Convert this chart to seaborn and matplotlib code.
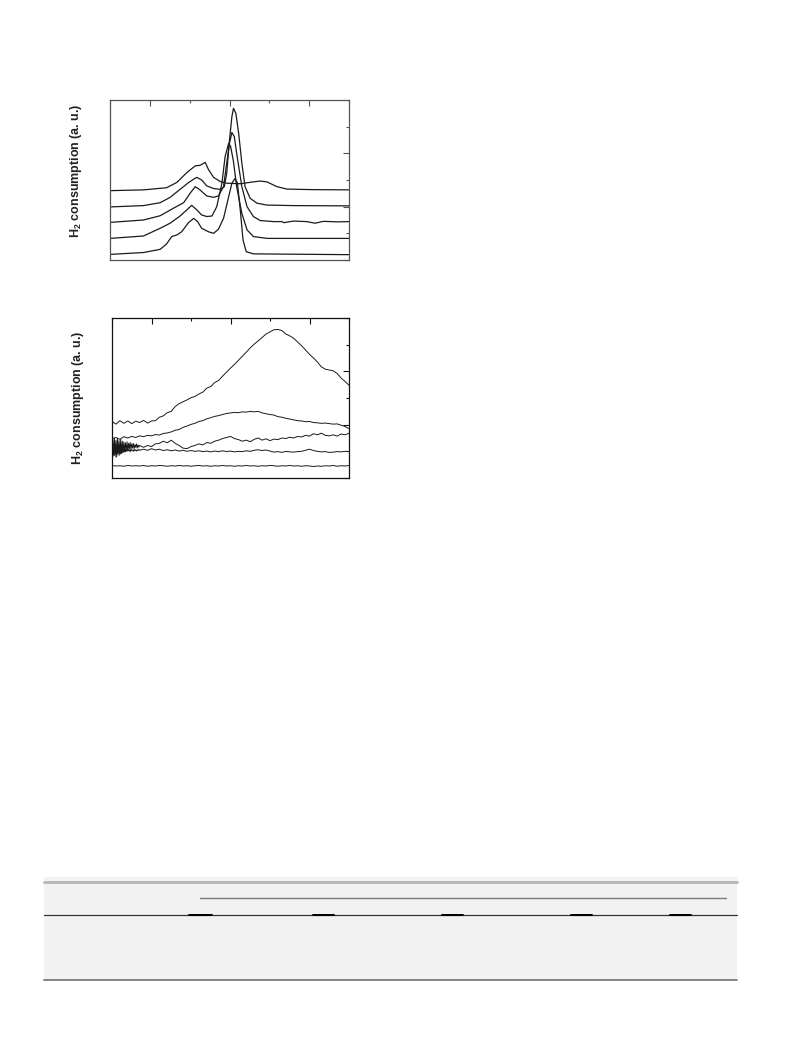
import matplotlib
matplotlib.use("Agg")
import matplotlib.pyplot as plt
from matplotlib.lines import Line2D
from matplotlib.patches import Rectangle
from matplotlib.ticker import MultipleLocator
import seaborn as sns
import numpy as np
import pandas as pd

# ---- top panel: five TPR profiles (temperature, signal) ----
tpr_a_t = [100, 184, 242, 268, 293, 314, 326, 339, 347, 360, 377, 393, 427, 460, 477, 494, 519, 544, 603, 700]
tpr_a_v = [2.60, 2.63, 2.71, 2.91, 3.28, 3.53, 3.55, 3.66, 3.40, 3.10, 2.94, 2.88, 2.86, 2.93, 2.96, 2.93, 2.75, 2.66, 2.64, 2.63]

tpr_b_t = [100, 184, 226, 251, 276, 297, 310, 318, 330, 343, 360, 377, 387, 393, 400, 406, 410, 416, 423, 431, 439, 452, 469, 494, 561, 700]
tpr_b_v = [1.99, 2.04, 2.15, 2.35, 2.65, 2.90, 3.03, 3.10, 3.00, 2.78, 2.68, 2.65, 2.75, 3.25, 4.50, 5.38, 5.69, 5.50, 4.75, 3.63, 2.75, 2.31, 2.13, 2.06, 2.04, 2.03]

tpr_c_t = [100, 184, 226, 259, 285, 301, 314, 326, 343, 360, 372, 385, 393, 400, 406, 412, 418, 431, 444, 460, 477, 511, 532, 536, 561, 594, 615, 636, 670, 700]
tpr_c_v = [1.41, 1.50, 1.66, 1.94, 2.15, 2.50, 2.75, 2.63, 2.40, 2.35, 2.40, 2.75, 3.63, 4.38, 4.78, 4.63, 4.00, 2.75, 2.00, 1.63, 1.48, 1.44, 1.44, 1.40, 1.46, 1.44, 1.38, 1.45, 1.43, 1.44]

tpr_d_t = [100, 184, 226, 251, 276, 293, 305, 318, 330, 343, 356, 368, 381, 389, 398, 403, 410, 418, 431, 444, 460, 494, 700]
tpr_d_v = [0.81, 0.90, 1.19, 1.38, 1.65, 1.88, 2.05, 1.88, 1.69, 1.63, 1.65, 2.00, 2.88, 3.88, 4.38, 4.25, 3.69, 2.75, 1.75, 1.13, 0.88, 0.81, 0.81]

tpr_e_t = [100, 184, 226, 242, 255, 268, 280, 297, 310, 320, 330, 347, 360, 372, 385, 398, 406, 414, 420, 427, 434, 442, 460, 700]
tpr_e_v = [0.21, 0.28, 0.40, 0.60, 0.88, 0.94, 1.06, 1.40, 1.56, 1.44, 1.19, 1.06, 1.00, 1.15, 1.56, 2.38, 2.88, 3.06, 2.88, 1.88, 0.75, 0.31, 0.23, 0.20]

# ---- bottom panel: five noisy profiles ----
temp_low = list(range(100, 701, 10))
# the two curves with the strong start-up noise are sampled finer below 180
temp_noisy = list(range(100, 171, 2)) + list(range(180, 701, 10))

low_1 = [2.12, 2.02, 2.15, 2.05, 2.14, 2.04, 2.13, 2.08, 2.16, 2.06, 2.14, 2.15, 2.28, 2.33, 2.45, 2.50,
         2.68, 2.79, 2.86, 2.93, 3.01, 3.06, 3.15, 3.22, 3.37, 3.43, 3.58, 3.66, 3.82, 3.97, 4.12, 4.26,
         4.41, 4.57, 4.72, 4.88, 5.02, 5.14, 5.27, 5.40, 5.48, 5.56, 5.57, 5.53, 5.40, 5.33, 5.24, 5.10,
         4.96, 4.80, 4.64, 4.50, 4.35, 4.17, 4.08, 4.05, 4.02, 3.92, 3.75, 3.62, 3.48]
low_2 = [1.47, 1.52, 1.45, 1.55, 1.50, 1.56, 1.52, 1.58, 1.55, 1.60, 1.58, 1.63, 1.61, 1.67, 1.69, 1.73,
         1.79, 1.82, 1.90, 1.95, 2.01, 2.05, 2.12, 2.15, 2.22, 2.26, 2.31, 2.34, 2.38, 2.42, 2.44, 2.46,
         2.45, 2.48, 2.47, 2.50, 2.48, 2.50, 2.44, 2.41, 2.38, 2.36, 2.30, 2.28, 2.24, 2.21, 2.18, 2.15,
         2.14, 2.11, 2.12, 2.08, 2.07, 2.05, 2.06, 2.04, 2.02, 2.03, 1.98, 1.93, 1.85]
low_3 = [1.05, 1.45, 0.85, 1.50, 0.90, 1.42, 0.80, 1.48, 0.95, 1.40, 0.88, 1.45, 0.92, 1.38, 0.98, 1.35,
         1.00, 1.32, 1.05, 1.36, 1.02, 1.30, 1.10, 1.33, 1.08, 1.28, 1.12, 1.30, 1.10, 1.25, 1.15, 1.28,
         1.12, 1.24, 1.16, 1.22,
         1.15, 1.22, 1.18, 1.28, 1.30, 1.38, 1.32, 1.42,
         1.30, 1.22, 1.12, 1.10, 1.18, 1.22, 1.28, 1.24, 1.33, 1.30, 1.38, 1.42, 1.48, 1.52, 1.56, 1.48,
         1.44, 1.38, 1.42, 1.36, 1.45, 1.50, 1.42, 1.47, 1.40, 1.46, 1.44, 1.50, 1.48, 1.53, 1.50, 1.56,
         1.54, 1.60, 1.57, 1.66, 1.62, 1.68, 1.60, 1.58, 1.62, 1.57, 1.65, 1.62, 1.68]
low_4 = [1.20, 0.80, 1.25, 0.85, 1.22, 0.78, 1.18, 0.90, 1.20, 0.85, 1.15, 0.92, 1.12, 0.95, 1.10, 0.96,
         1.14, 0.98, 1.08, 1.00, 1.10, 1.02, 1.06, 0.98, 1.08, 1.03, 1.05, 1.00, 1.07, 1.02, 1.06, 1.01,
         1.05, 1.03, 1.07, 1.04,
         1.08, 1.04, 1.10, 1.05, 1.08, 1.03, 1.06, 1.02,
         1.05, 1.01, 1.04, 1.00, 1.03, 1.00, 1.02, 0.99, 1.01, 0.98, 1.01, 0.99, 1.02, 0.99, 1.01, 0.98,
         1.00, 0.99, 1.02, 1.00, 1.04, 1.06, 1.03, 1.05, 1.01, 0.97, 0.99, 0.96, 1.00, 0.98, 0.97, 0.99,
         1.00, 1.04, 1.08, 1.03, 1.00, 0.98, 0.99, 0.96, 0.97, 0.99, 0.98, 1.00, 0.99]
low_5 = [0.47, 0.45, 0.46, 0.44, 0.47, 0.45, 0.46, 0.45, 0.47, 0.44, 0.46, 0.45, 0.47, 0.46, 0.44, 0.46,
         0.45, 0.47, 0.45, 0.46, 0.44, 0.46, 0.47, 0.45, 0.46, 0.44, 0.46, 0.45, 0.47, 0.45, 0.46, 0.44,
         0.46, 0.45, 0.47, 0.45, 0.46, 0.44, 0.46, 0.45, 0.47, 0.46, 0.44, 0.46, 0.45, 0.47, 0.45, 0.46,
         0.44, 0.46, 0.45, 0.43, 0.45, 0.44, 0.46, 0.45, 0.47, 0.44, 0.46, 0.45, 0.47]

y_label = "H$_\\mathbf{2}$ consumption (a. u.)"

sns.set_theme(style="white")
plt.rcParams['font.family'] = ['Liberation Sans', 'DejaVu Sans']
plt.rcParams['mathtext.fontset'] = 'custom'
plt.rcParams['mathtext.rm'] = 'Liberation Sans'
plt.rcParams['mathtext.bf'] = 'Liberation Sans:bold'

W, H = 793, 1057
fig = plt.figure(figsize=(W / 100, H / 100), dpi=100)


def px_axes(left, top, right, bottom):
    return fig.add_axes([left / W, 1 - bottom / H, (right - left) / W, (bottom - top) / H])


def style_panel(ax, spine_color, label_y):
    ax.set_xlim(100, 700)
    ax.set_ylim(0, 6)
    ax.xaxis.set_major_locator(MultipleLocator(200))
    ax.xaxis.set_minor_locator(MultipleLocator(100))
    ax.yaxis.set_major_locator(MultipleLocator(2))
    ax.yaxis.set_minor_locator(MultipleLocator(1))
    ax.tick_params(which='both', direction='in', top=True, right=True,
                   labelbottom=False, labelleft=False, color=spine_color, width=0.8)
    ax.tick_params(which='major', length=4)
    ax.tick_params(which='minor', length=2.5)
    for s in ax.spines.values():
        s.set_color(spine_color)
        s.set_linewidth(0.9)
    ax.set_xlabel("")
    ax.set_ylabel(y_label, fontsize=9, fontweight='bold', color='#222222')
    ax.yaxis.set_label_coords(-0.11, label_y)


# top panel
ax1 = px_axes(110, 100, 349, 260)
for t, v in [(tpr_a_t, tpr_a_v), (tpr_b_t, tpr_b_v), (tpr_c_t, tpr_c_v),
             (tpr_d_t, tpr_d_v), (tpr_e_t, tpr_e_v)]:
    sns.lineplot(x=t, y=v, ax=ax1, color='#1a1a1a', linewidth=0.9, sort=False, estimator=None)
style_panel(ax1, '#555555', 0.56)

# bottom panel
ax2 = px_axes(112, 318, 349, 478)
low_df = pd.DataFrame({
    'temp': temp_low + temp_low + temp_noisy + temp_noisy + temp_low,
    'signal': low_1 + low_2 + low_3 + low_4 + low_5,
    'sample': ['1'] * len(temp_low) + ['2'] * len(temp_low) + ['3'] * len(temp_noisy)
              + ['4'] * len(temp_noisy) + ['5'] * len(temp_low),
})
sns.lineplot(data=low_df, x='temp', y='signal', units='sample', estimator=None,
             color='#1a1a1a', linewidth=0.7, ax=ax2, legend=False)
style_panel(ax2, '#111111', 0.50)

# grey table block at the bottom of the page
fig.add_artist(Rectangle((44 / W, 1 - 980 / H), (737 - 44) / W, (980 - 877) / H,
                         transform=fig.transFigure, facecolor='#f2f2f2', edgecolor='none'))


def hline(x0, x1, y, color, lw):
    fig.add_artist(Line2D([x0 / W, x1 / W], [1 - y / H, 1 - y / H],
                          transform=fig.transFigure, color=color, linewidth=lw))


hline(44, 737, 882, '#b5b5b5', 2.0)
hline(200, 726, 898, '#7a7a7a', 1.0)
hline(44, 737, 915, '#333333', 0.9)
for x0, x1 in [(189, 212), (313, 334), (442, 463), (571, 592), (670, 691)]:
    hline(x0, x1, 915, '#000000', 1.4)
hline(44, 737, 980, '#7a7a7a', 1.3)

fig.savefig("out.png", dpi=100, facecolor='white')
